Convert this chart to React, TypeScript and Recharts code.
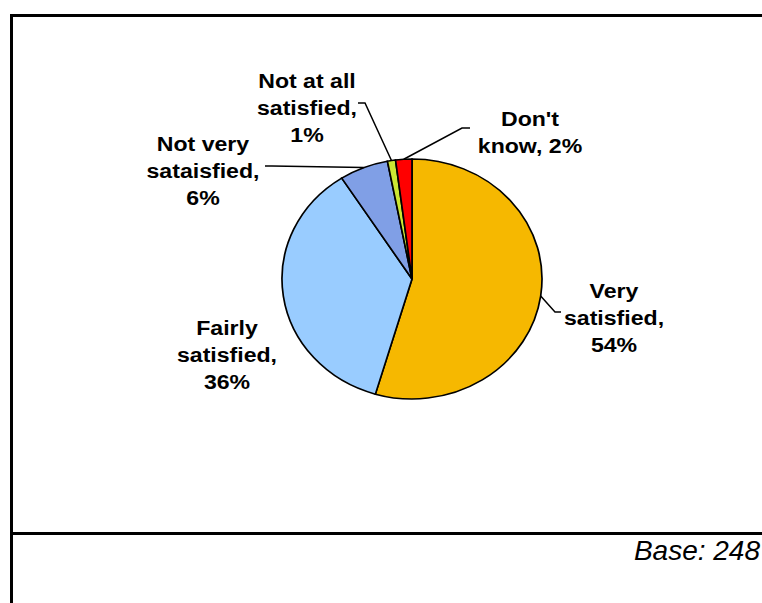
import React from "react";
import { PieChart, Pie, Cell } from "recharts";

// ---- data ----
const CATEGORIES = [
  "Very satisfied",
  "Fairly satisfied",
  "Not very sataisfied",
  "Not at all satisfied",
  "Don't know",
];
const VALUES = [54, 36, 6, 1, 2];
const COLORS = ["#F6B800", "#99CCFF", "#809FE6", "#CCE633", "#FF0000"];
const BASE_NOTE = "Base: 248";

// ---- layout (label placement, relative to pie centre) ----
const WORDS_PER_LINE = [[1, 1, 1], [1, 1, 1], [2, 1, 1], [3, 1, 1], [1, 2]];
const LABEL_CENTER = [[202, 39], [-185, 76], [-209, -108], [-105, -171], [118, -147]];
const LEADER = [
  [[143, 33], [149, 33]],
  null,
  [[-140, -113], [-147, -113]],
  [[-47, -176], [-54, -176]],
  [[50, -151], [58, -151]],
];

const W = 762;
const H = 603;
const CX = 412;
const CY = 279;
const R = 130;
const SQUASH = 0.923;
const RADIAN = Math.PI / 180;
const LINE_H = 27;
const FONT = "'Liberation Sans', Arial, sans-serif";

const data = CATEGORIES.map((name, i) => ({ name, value: VALUES[i] }));

function labelLines(i: number, name: string, value: number): string[] {
  const words = `${name}, ${value}%`.split(" ");
  const out: string[] = [];
  let k = 0;
  for (const n of WORDS_PER_LINE[i]) {
    out.push(words.slice(k, k + n).join(" "));
    k += n;
  }
  if (k < words.length) out[out.length - 1] += " " + words.slice(k).join(" ");
  return out;
}

const renderLabel = (props: any) => {
  const { cx, cy, midAngle, outerRadius, index, name, value } = props;
  const i = index as number;
  const ex = cx + outerRadius * Math.cos(-midAngle * RADIAN);
  const ey = cy + SQUASH * outerRadius * Math.sin(-midAngle * RADIAN);
  const [dx, dy] = LABEL_CENTER[i];
  const xc = cx + dx;
  const yc = cy + dy;
  const lines = labelLines(i, name, value);
  const n = lines.length;
  const lead = LEADER[i];
  return (
    <g key={`lbl-${i}`}>
      {lead && (
        <polyline
          points={`${ex},${ey} ${cx + lead[0][0]},${cy + lead[0][1]} ${cx + lead[1][0]},${cy + lead[1][1]}`}
          fill="none"
          stroke="#000"
          strokeWidth={1.5}
        />
      )}
      <text
        textAnchor="middle"
        fontFamily={FONT}
        fontWeight="bold"
        fontSize={21}
        fill="#000"
        transform={`translate(${xc} 0) scale(1.1 1) translate(${-xc} 0)`}
      >
        {lines.map((t, j) => (
          <tspan key={j} x={xc} y={yc + (j - (n - 1) / 2) * LINE_H + 7.5}>
            {t}
          </tspan>
        ))}
      </text>
    </g>
  );
};

export default function App() {
  return (
    <div style={{ position: "absolute", left: 0, top: 0, width: W, height: H, background: "#fff" }}>
      <style>{`
        path.recharts-sector {
          transform-box: view-box;
          transform-origin: ${CX}px ${CY}px;
          transform: scaleY(${SQUASH});
        }
      `}</style>
      <div style={{ position: "absolute", left: 0, top: 0 }}>
        <PieChart width={W} height={H} margin={{ top: 0, right: 0, bottom: 0, left: 0 }}>
          <Pie
            data={data}
            dataKey="value"
            nameKey="name"
            cx={CX}
            cy={CY}
            outerRadius={R}
            startAngle={90}
            endAngle={-270}
            stroke="#000"
            strokeWidth={1.7}
            label={renderLabel}
            labelLine={false}
            isAnimationActive={false}
          >
            {data.map((d, i) => (
              <Cell key={d.name} fill={COLORS[i]} />
            ))}
          </Pie>
        </PieChart>
      </div>
      <svg
        width={W}
        height={H}
        style={{ position: "absolute", left: 0, top: 0, pointerEvents: "none" }}
      >
        <line x1={11.5} y1={14} x2={11.5} y2={H} stroke="#000" strokeWidth={3} />
        <line x1={10} y1={15.5} x2={W} y2={15.5} stroke="#000" strokeWidth={3} />
        <line x1={10} y1={533.5} x2={W} y2={533.5} stroke="#000" strokeWidth={3} />
        <text
          x={760}
          y={560}
          textAnchor="end"
          fontFamily={FONT}
          fontStyle="italic"
          fontSize={28}
          fill="#000"
        >
          {BASE_NOTE}
        </text>
      </svg>
    </div>
  );
}
